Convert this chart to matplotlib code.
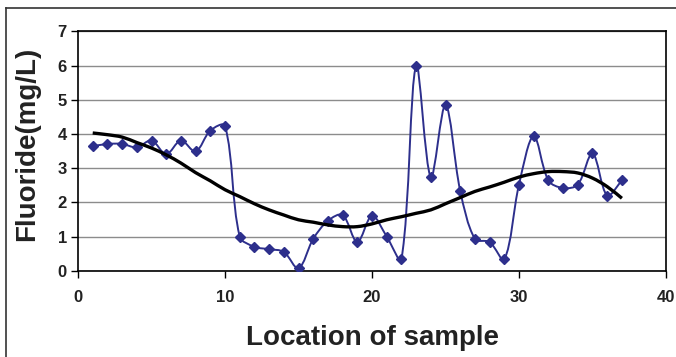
import numpy as np
import matplotlib.pyplot as plt
from matplotlib.path import Path
from matplotlib.patches import PathPatch
from matplotlib.lines import Line2D

plt.rcParams['font.family'] = ['Liberation Sans', 'DejaVu Sans']

# sample locations and measured fluoride
location = list(range(1, 38))
fluoride = [3.64, 3.71, 3.71, 3.61, 3.81, 3.41, 3.81, 3.49, 4.10, 4.24,
            1.00, 0.70, 0.63, 0.55, 0.07, 0.93, 1.46, 1.63, 0.84, 1.61,
            1.00, 0.33, 6.00, 2.74, 4.85, 2.34, 0.93, 0.84, 0.33, 2.52,
            3.94, 2.64, 2.42, 2.52, 3.43, 2.20, 2.65]
# trend line
trend = [4.03, 3.98, 3.91, 3.75, 3.59, 3.39, 3.15, 2.87, 2.63, 2.37,
         2.17, 1.96, 1.78, 1.63, 1.49, 1.42, 1.34, 1.29, 1.29, 1.37,
         1.49, 1.58, 1.68, 1.78, 1.96, 2.14, 2.32, 2.45, 2.59, 2.74,
         2.84, 2.90, 2.90, 2.86, 2.71, 2.46, 2.12]

xticks = [0, 10, 20, 30, 40]
yticks = [0, 1, 2, 3, 4, 5, 6, 7]

NAVY = '#2d2f8c'


def smooth_path(x, y, k=1 / 6, aspect=2.3):
    """Smoothed line (bezier) through the points, tangents weighted by segment length."""
    p = np.column_stack([x, y]).astype(float)
    n = len(p)
    # segment lengths in roughly screen proportions
    d = np.hypot(np.diff(p[:, 0]), np.diff(p[:, 1]) * aspect)
    verts = [p[0]]
    codes = [Path.MOVETO]
    for i in range(n - 1):
        p0 = p[i - 1] if i > 0 else p[i]
        p3 = p[i + 2] if i + 2 < n else p[i + 1]
        dl = d[i - 1] if i > 0 else d[i]
        dr = d[i + 1] if i + 2 < n else d[i]
        w1 = 2 * d[i] / (dl + d[i])
        w2 = 2 * d[i] / (d[i] + dr)
        c1 = p[i] + (p[i + 1] - p0) * k * w1
        c2 = p[i + 1] - (p3 - p[i]) * k * w2
        verts += [c1, c2, p[i + 1]]
        codes += [Path.CURVE4] * 3
    return Path(verts, codes)


fig = plt.figure(figsize=(6.76, 3.57), dpi=100)
ax = fig.add_axes([0.1154, 0.2417, 0.8698, 0.6701])

ax.set_xlim(0, 40)
ax.set_ylim(0, 7)
ax.set_xticks(xticks)
ax.set_yticks(yticks)
ax.yaxis.grid(True, color='#8c8c8c', lw=1.0)
ax.set_axisbelow(True)

ax.add_patch(PathPatch(smooth_path(location, fluoride), fc='none',
                       ec=NAVY, lw=1.4, zorder=3))
ax.plot(location, fluoride, ls='none', marker='D', ms=5.5,
        color=NAVY, zorder=4)
ax.add_patch(PathPatch(smooth_path(location, trend), fc='none',
                       ec='black', lw=2.4, zorder=5))

for s in ax.spines.values():
    s.set_linewidth(1.2)
ax.tick_params(direction='out', length=5, width=1, pad=3)
for lab in ax.get_xticklabels() + ax.get_yticklabels():
    lab.set_fontweight('bold')
    lab.set_fontsize(12)
    lab.set_color('#222222')
ax.tick_params(axis='x', pad=9)

ax.set_xlabel('Location of sample', fontsize=20, fontweight='bold',
              color='#222222', va='center')
ax.set_ylabel('Fluoride(mg/L)', fontsize=20, fontweight='bold',
              color='#222222', va='center')
ax.xaxis.set_label_coords(0.5, -0.28)
ax.yaxis.set_label_coords(-0.087, 0.53)

# outer chart border
x0 = 6 / 676
y1 = 1 - 8 / 357
fig.add_artist(Line2D([x0, x0], [0, y1], transform=fig.transFigure,
                      color='#333333', lw=1.2))
fig.add_artist(Line2D([x0, 1], [y1, y1], transform=fig.transFigure,
                      color='#333333', lw=1.2))

fig.savefig('out.png', dpi=100)
